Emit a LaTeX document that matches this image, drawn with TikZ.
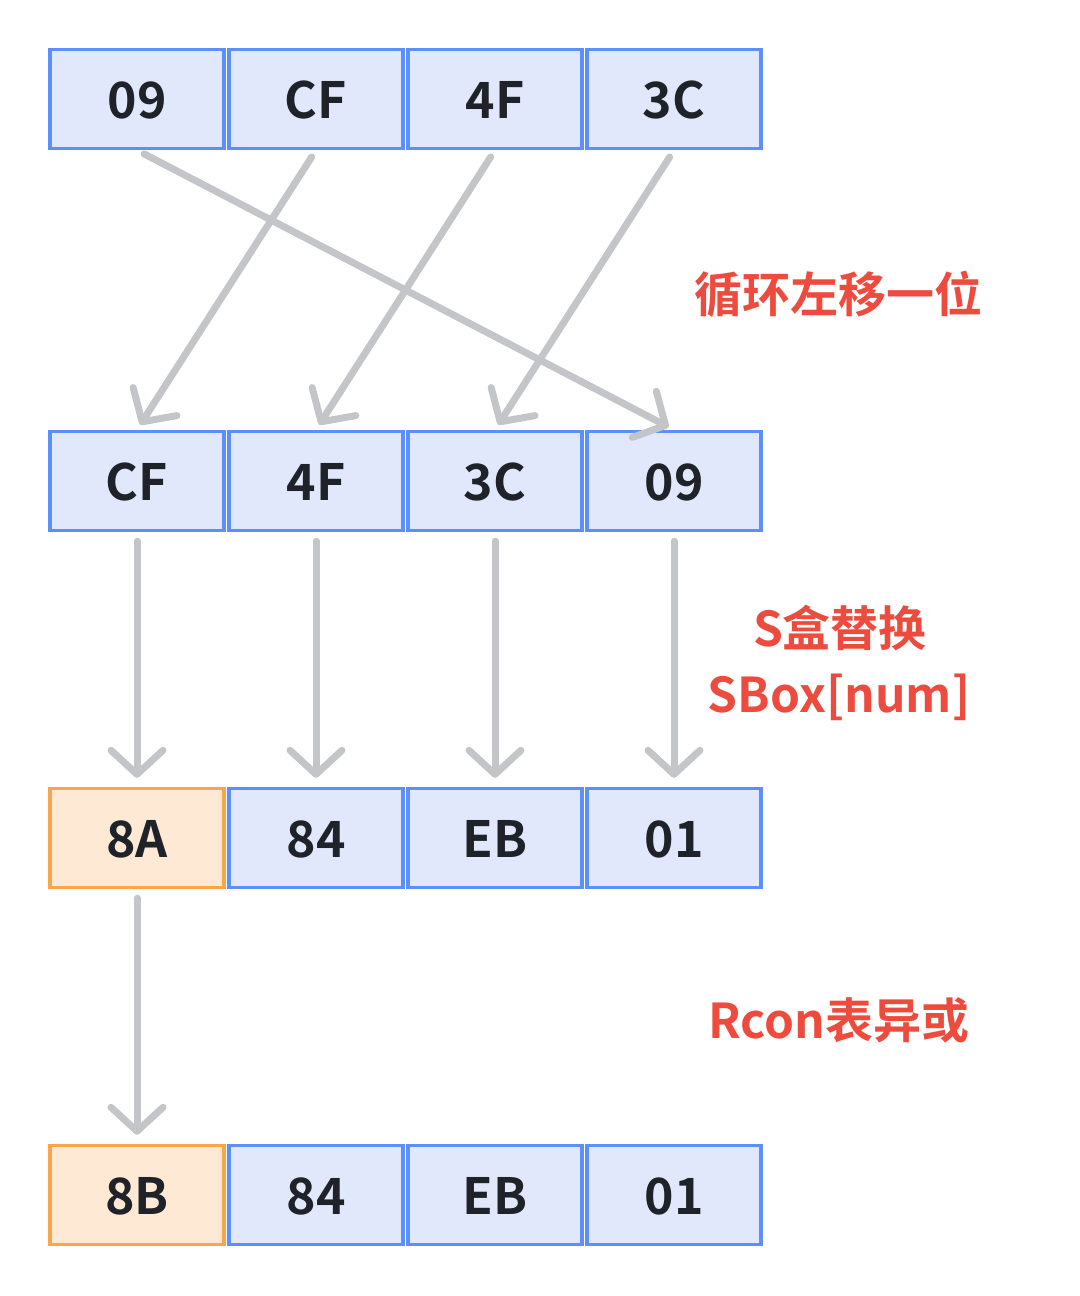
\documentclass[tikz,border=0pt]{standalone}
\usepackage{fontspec}
\setmainfont{Noto Sans CJK SC}[BoldFont={Noto Sans CJK SC Bold}]
\usetikzlibrary{arrows.meta}
\definecolor{cellblue}{HTML}{5B8FF9}
\definecolor{cellfill}{HTML}{E1E8FC}
\definecolor{hotline}{HTML}{F7A64B}
\definecolor{hotfill}{HTML}{FDE9D4}
\definecolor{arrgray}{HTML}{C3C5C9}
\definecolor{notered}{HTML}{EE4B3F}
\definecolor{ink}{HTML}{1F2329}
\begin{document}
\begin{tikzpicture}[x=0.5pt,y=-0.5pt,cell/.style={shape=rectangle,draw=cellblue,fill=cellfill,line width=1.7pt,minimum width=87pt,minimum height=49.5pt,inner sep=0pt,text height=19.5pt,text depth=0pt,text=ink,font=\bfseries\fontsize{25}{25}\selectfont},cellO/.style={cell,draw=hotline,fill=hotfill},arr/.style={draw=arrgray,line width=3.5pt,line cap=round,-{Straight Barb[length=12pt,width=26pt,line cap=round,line join=round]},shorten <=4pt,shorten >=3pt},note/.style={text=notered,font=\bfseries\fontsize{24}{24}\selectfont}]
\def\dx{179}
\def\xa{137}
\useasboundingbox (0,0) rectangle (1080,1296);

% row 1
\node[cell] (a1) at (\xa,99) {09};
\node[cell] (a2) at (\xa+\dx,99) {CF};
\node[cell] (a3) at (\xa+2*\dx,99) {4F};
\node[cell] (a4) at (\xa+3*\dx,99) {3C};

% row 2
\node[cell] (b1) at (\xa,481) {CF};
\node[cell] (b2) at (\xa+\dx,481) {4F};
\node[cell] (b3) at (\xa+2*\dx,481) {3C};
\node[cell] (b4) at (\xa+3*\dx,481) {09};

% row 3
\node[cellO] (c1) at (\xa,838) {8A};
\node[cell] (c2) at (\xa+\dx,838) {84};
\node[cell] (c3) at (\xa+2*\dx,838) {EB};
\node[cell] (c4) at (\xa+3*\dx,838) {01};

% row 4
\node[cellO] (d1) at (\xa,1195) {8B};
\node[cell] (d2) at (\xa+\dx,1195) {84};
\node[cell] (d3) at (\xa+2*\dx,1195) {EB};
\node[cell] (d4) at (\xa+3*\dx,1195) {01};

\draw[arr] (a1.south) -- (b4.north);
\draw[arr] (a2.south) -- (b1.north);
\draw[arr] (a3.south) -- (b2.north);
\draw[arr] (a4.south) -- (b3.north);

\draw[arr,shorten <=4.5pt,shorten >=4.5pt] (b1.south) -- (c1.north);
\draw[arr,shorten <=4.5pt,shorten >=4.5pt] (b2.south) -- (c2.north);
\draw[arr,shorten <=4.5pt,shorten >=4.5pt] (b3.south) -- (c3.north);
\draw[arr,shorten <=4.5pt,shorten >=4.5pt] (b4.south) -- (c4.north);

\draw[arr,shorten <=4.5pt,shorten >=4.5pt] (c1.south) -- (d1.north);

\node[note] (shift) at (838,294) {循环左移一位};
\node[note] (sbox) at (840,628) {S盒替换};
\node[note] (sboxn) at (839,697) {SBox[num]};
\node[note] (rcon) at (839,1020) {Rcon表异或};
\end{tikzpicture}
\end{document}
